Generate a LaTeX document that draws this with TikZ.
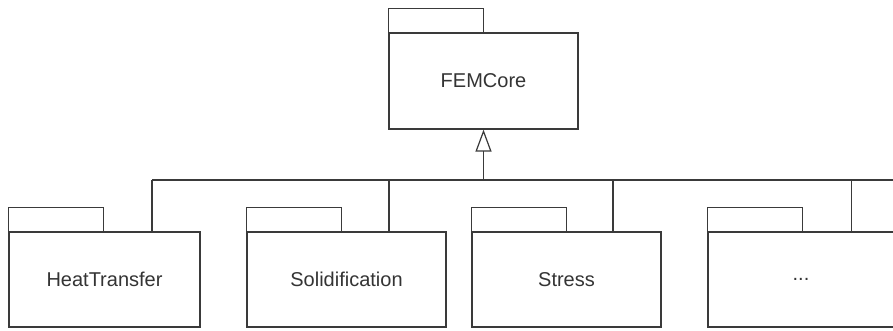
\documentclass[tikz,border=0pt]{standalone}
\usepackage{fontspec}
\setmainfont{Liberation Sans}
\usetikzlibrary{arrows.meta}
\definecolor{ink}{HTML}{3A3A3A}
\tikzset{
  pkgbody/.style={draw=ink, line width=1.2pt, minimum height=95pt, inner sep=0pt,
    font=\fontsize{20}{24}\selectfont, text=ink!90!black},
  conn/.style={draw=ink, line width=1.2pt},
  inherit/.style={conn, -{Triangle[open, length=22pt, width=16pt, line width=1.2pt]}},
}
\newcommand{\pkgtab}[1]{\draw[draw=ink, line width=1.2pt] (#1.north west) -- ++(0,-24) -- ++(95,0) -- ++(0,24);}
\begin{document}
\begin{tikzpicture}[x=1pt, y=-1pt]
\useasboundingbox[fill=white] (0,0) rectangle (893,331);
% packages
\node[pkgbody, minimum width=189pt, minimum height=96pt] (fem) at (483.5,81) {FEMCore};
\node[pkgbody, minimum width=191pt] (heat) at (104.5,279.5) {HeatTransfer};
\node[pkgbody, minimum width=199pt] (solid) at (346.5,279.5) {Solidification};
\node[pkgbody, minimum width=189pt] (stress) at (566.5,279.5) {Stress};
\node[pkgbody, minimum width=186pt] (more) at (801,279.5) {...};
% tabs
\pkgtab{fem}
\pkgtab{heat}
\pkgtab{solid}
\pkgtab{stress}
\pkgtab{more}
% bus coordinates
\coordinate (busM) at (483.5,180);
\coordinate (busL) at (152,180);
\coordinate (busR) at (893,180);
\coordinate (d1) at (152,180);
\coordinate (d2) at (389,180);
\coordinate (d3) at (613,180);
\coordinate (d4) at (851.5,180);
% connectors
\draw[inherit] (busM) -- (fem.south);
\draw[conn] (busL) -- (busR);
\draw[conn] (d1) -- (d1 |- heat.north);
\draw[conn] (d2) -- (d2 |- solid.north);
\draw[conn] (d3) -- (d3 |- stress.north);
\draw[conn] (d4) -- (d4 |- more.north);
\end{tikzpicture}
\end{document}
